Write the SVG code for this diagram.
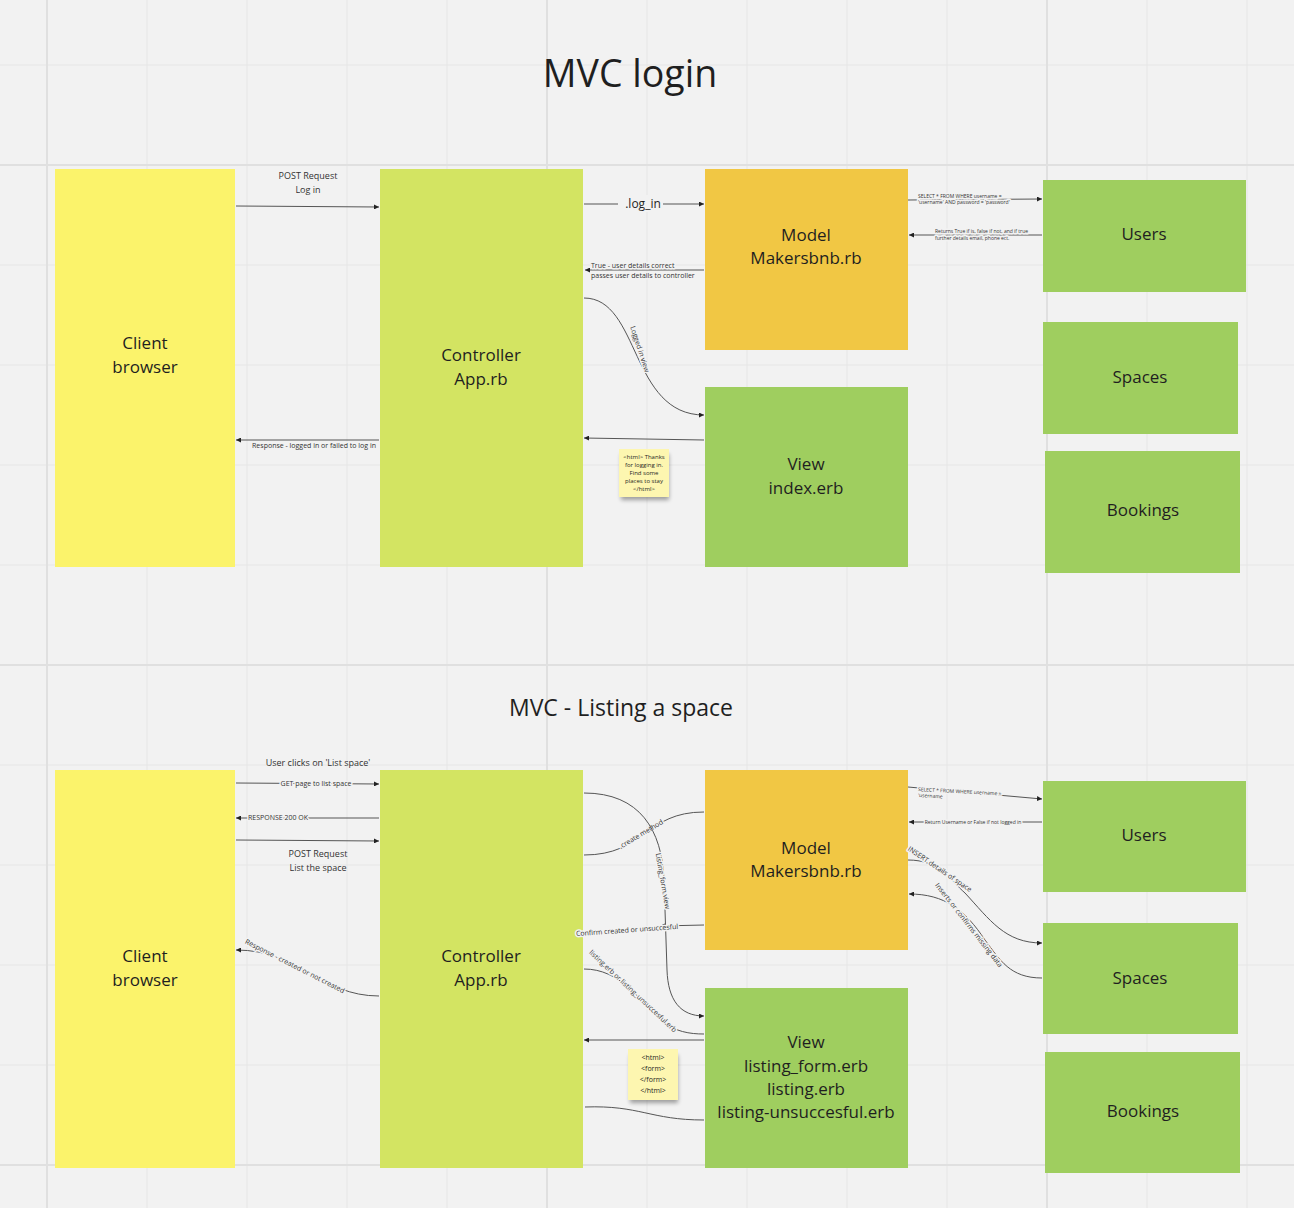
<svg xmlns="http://www.w3.org/2000/svg" width="1294" height="1208" viewBox="0 0 1294 1208">
<defs>
<style>
.t{font-family:"Open Sans","Liberation Sans",sans-serif;fill:#1f1f1f;text-anchor:middle}
.n{font-size:17px}
.s{font-size:9px;fill:#333}
.xs{font-size:7px;fill:#333}
.xxs{font-size:5px;fill:#333}
.mask{paint-order:stroke;stroke:#f2f2f2;stroke-width:3px;stroke-linejoin:round}
.c{fill:none;stroke:#555;stroke-width:1}
.minor{stroke:#e6e6e6;stroke-width:1}
.major{stroke:#e0e0e0;stroke-width:2}
.client{fill:#fbf36b}
.ctrl{fill:#d3e462}
.model{fill:#f1c744}
.green{fill:#9fce5f}
.sticky{fill:#fdf6b0}
.bg{fill:#f2f2f2}
</style>
<marker id="a" viewBox="0 0 6 6" refX="6" refY="3" markerWidth="5" markerHeight="5" orient="auto-start-reverse" markerUnits="userSpaceOnUse">
<path d="M0,0 L6,3 L0,6 z" fill="#222"/>
</marker>
<filter id="sh" x="-30%" y="-30%" width="160%" height="180%">
<feGaussianBlur stdDeviation="2"/>
</filter>
</defs>
<rect width="1294" height="1208" fill="#f2f2f2"/>
<g id="grid">
<path class="minor" d="M147,0V1208M247,0V1208M347,0V1208M447,0V1208M647,0V1208M747,0V1208M847,0V1208M947,0V1208M1147,0V1208M1247,0V1208M0,65H1294M0,265H1294M0,365H1294M0,465H1294M0,565H1294M0,765H1294M0,865H1294M0,965H1294M0,1065H1294"/>
<path class="major" d="M47,0V1208M547,0V1208M1047,0V1208M0,165H1294M0,665H1294M0,1165H1294"/>
</g>
<text class="t" x="630" y="87" font-size="37.5">MVC login</text>
<text class="t" x="621" y="716" font-size="23">MVC - Listing a space</text>

<!-- Top section nodes -->
<g id="client1"><rect class="client" x="55" y="169" width="180" height="398"/><text class="t n" x="145" y="349">Client</text><text class="t n" x="145" y="373">browser</text></g>
<g id="controller1"><rect class="ctrl" x="380" y="169" width="203" height="398"/><text class="t n" x="481" y="361">Controller</text><text class="t n" x="481" y="385">App.rb</text></g>
<g id="model1"><rect class="model" x="705" y="169" width="203" height="181"/><text class="t n" x="806" y="241">Model</text><text class="t n" x="806" y="264">Makersbnb.rb</text></g>
<g id="view1"><rect class="green" x="705" y="387" width="203" height="180"/><text class="t n" x="806" y="470">View</text><text class="t n" x="806" y="494">index.erb</text></g>
<g id="users1"><rect class="green" x="1043" y="180" width="203" height="112"/><text class="t n" x="1144" y="240">Users</text></g>
<g id="spaces1"><rect class="green" x="1043" y="322" width="195" height="112"/><text class="t n" x="1140" y="383">Spaces</text></g>
<g id="bookings1"><rect class="green" x="1045" y="451" width="195" height="122"/><text class="t n" x="1143" y="516">Bookings</text></g>
<g id="sticky1">
<rect x="621" y="454" width="48" height="46" fill="#000" opacity="0.35" filter="url(#sh)"/>
<rect class="sticky" x="619" y="449" width="50" height="48"/>
<text class="t" font-size="6" fill="#333"><tspan x="644" y="459">&lt;html&gt; Thanks</tspan><tspan x="644" y="467">for logging in.</tspan><tspan x="644" y="475">Find some</tspan><tspan x="644" y="483">places to stay</tspan><tspan x="644" y="491">&lt;/html&gt;</tspan></text>
</g>

<!-- Bottom section nodes -->
<g id="client2"><rect class="client" x="55" y="770" width="180" height="398"/><text class="t n" x="145" y="962">Client</text><text class="t n" x="145" y="986">browser</text></g>
<g id="controller2"><rect class="ctrl" x="380" y="770" width="203" height="398"/><text class="t n" x="481" y="962">Controller</text><text class="t n" x="481" y="986">App.rb</text></g>
<g id="model2"><rect class="model" x="705" y="770" width="203" height="180"/><text class="t n" x="806" y="854">Model</text><text class="t n" x="806" y="877">Makersbnb.rb</text></g>
<g id="view2"><rect class="green" x="705" y="988" width="203" height="180"/><text class="t n" x="806" y="1048">View</text><text class="t n" x="806" y="1072">listing_form.erb</text><text class="t n" x="806" y="1095">listing.erb</text><text class="t n" x="806" y="1118">listing-unsuccesful.erb</text></g>
<g id="users2"><rect class="green" x="1043" y="781" width="203" height="111"/><text class="t n" x="1144" y="841">Users</text></g>
<g id="spaces2"><rect class="green" x="1043" y="923" width="195" height="111"/><text class="t n" x="1140" y="984">Spaces</text></g>
<g id="bookings2"><rect class="green" x="1045" y="1052" width="195" height="121"/><text class="t n" x="1143" y="1117">Bookings</text></g>
<g id="sticky2">
<rect x="630" y="1055" width="48" height="48" fill="#000" opacity="0.35" filter="url(#sh)"/>
<rect class="sticky" x="628" y="1049" width="50" height="51"/>
<text class="t" font-size="7" fill="#333"><tspan x="653" y="1060">&lt;html&gt;</tspan><tspan x="653" y="1071">&lt;form&gt;</tspan><tspan x="653" y="1082">&lt;/form&gt;</tspan><tspan x="653" y="1093">&lt;/html&gt;</tspan></text>
</g>

<g id="connectors">
<!-- top -->
<path class="c" d="M236,206 L379,207" marker-end="url(#a)"/>
<text class="t s" x="308" y="179">POST Request</text>
<text class="t s" x="308" y="193">Log in</text>
<path class="c" d="M584,204 L704,204" marker-end="url(#a)"/>
<rect class="bg" x="618" y="195" width="45" height="17"/>
<text class="t" x="643" y="208" font-size="12">.log_in</text>
<path class="c" d="M704,270 L585,270" marker-end="url(#a)"/>
<text class="xs mask" x="591" y="268" font-family="Open Sans, Liberation Sans, sans-serif" fill="#333">True - user details correct</text>
<text class="xs mask" x="591" y="278" font-family="Open Sans, Liberation Sans, sans-serif" fill="#333">passes user details to controller</text>
<path class="c" d="M584,298 C640,298 630,415 704,415" marker-end="url(#a)"/>
<text class="t xs mask" transform="translate(640,349) rotate(72)" x="0" y="2.5">Logged in view</text>
<path class="c" d="M704,440 L584,438" marker-end="url(#a)"/>
<path class="c" d="M379,440 L236,440" marker-end="url(#a)"/>
<text class="t xs mask" x="314" y="448">Response - logged in or failed to log in</text>
<path class="c" d="M908,200 L1042,199" marker-end="url(#a)"/>
<text class="xxs mask" font-family="Open Sans, Liberation Sans, sans-serif" x="918" y="198">SELECT * FROM WHERE username =</text>
<text class="xxs mask" font-family="Open Sans, Liberation Sans, sans-serif" x="918" y="204">'username' AND password = 'password'</text>
<path class="c" d="M1042,235 L909,235" marker-end="url(#a)"/>
<text class="xxs mask" font-family="Open Sans, Liberation Sans, sans-serif" x="935" y="233">Returns True if is, false if not, and if true</text>
<text class="xxs mask" font-family="Open Sans, Liberation Sans, sans-serif" x="935" y="240">further details email, phone ect.</text>

<!-- bottom -->
<text class="t s" x="318" y="766">User clicks on 'List space'</text>
<path class="c" d="M236,783 L379,784" marker-end="url(#a)"/>
<text class="t xs mask" x="316" y="786">GET page to list space</text>
<path class="c" d="M379,818 L236,818" marker-end="url(#a)"/>
<text class="t xs mask" x="278" y="820">RESPONSE 200 OK</text>
<path class="c" d="M236,840 L379,841" marker-end="url(#a)"/>
<text class="t s" x="318" y="857">POST Request</text>
<text class="t s" x="318" y="871">List the space</text>
<path class="c" d="M379,996 C320,996 300,950 236,950" marker-end="url(#a)"/>
<text class="t xs mask" transform="translate(295,966) rotate(27)" x="0" y="2.5">Response - created or not created</text>
<path class="c" d="M584,855 C645,855 645,812 704,812"/>
<text class="t xs mask" transform="translate(641,834) rotate(-31)" x="0" y="2.5">.create method</text>
<path class="c" d="M584,793 C640,793 662,830 664,880 L667,970 C668,1000 680,1016 704,1016" marker-end="url(#a)"/>
<text class="t xs mask" transform="translate(663,881) rotate(80)" x="0" y="2.5">Listing_form.view</text>
<path class="c" d="M704,925 L660,926" marker-end="url(#a)"/>
<text class="t xs mask" transform="translate(627,930) rotate(-4)" x="0" y="2.5">Confirm created or unsuccesful</text>
<path class="c" d="M584,969 C620,969 640,1000 660,1020 C675,1032 690,1034 704,1034"/>
<text class="t xs mask" transform="translate(633,991) rotate(43)" x="0" y="2.5">listing.erb or listing_unsuccesful.erb</text>
<path class="c" d="M704,1040 L584,1040" marker-end="url(#a)"/>
<path class="c" d="M704,1120 C650,1120 640,1105 585,1107"/>
<path class="c" d="M908,787 L1042,799" marker-end="url(#a)"/>
<text class="xxs mask" font-family="Open Sans, Liberation Sans, sans-serif" transform="rotate(3 918 790)" x="918" y="791">SELECT * FROM WHERE username =</text>
<text class="xxs mask" font-family="Open Sans, Liberation Sans, sans-serif" transform="rotate(3 918 796)" x="918" y="797">'username</text>
<path class="c" d="M1042,822 L909,822" marker-end="url(#a)"/>
<text class="t xxs mask" x="973" y="824">Return Username or False if not logged in</text>
<path class="c" d="M908,860 C940,860 950,880 965,893 C990,920 1005,943 1042,943" marker-end="url(#a)"/>
<text class="t xs mask" transform="translate(940,869) rotate(34)" x="0" y="2.5">INSERT details of space</text>
<path class="c" d="M1042,978 C1010,978 1000,960 985,940 C965,910 945,894 909,894" marker-end="url(#a)"/>
<text class="t xs mask" transform="translate(969,925) rotate(52)" x="0" y="2.5">Inserts or confirms missing data</text>
</g>
</svg>
